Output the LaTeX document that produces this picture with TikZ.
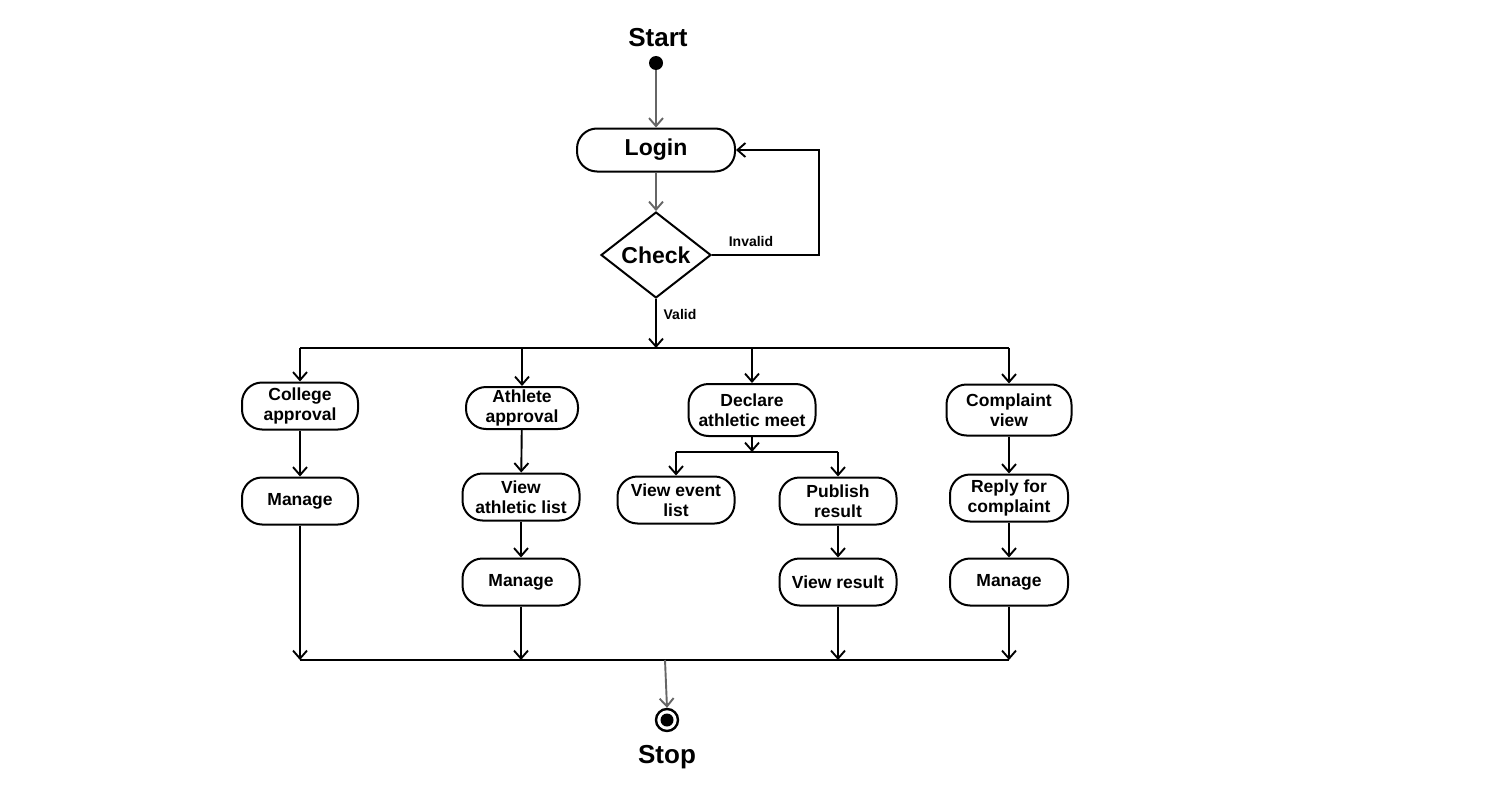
\documentclass[tikz,border=0pt]{standalone}
\usepackage{fontspec}
\setmainfont{Liberation Sans}
\usetikzlibrary{arrows.meta,shapes.geometric}
\definecolor{flowgray}{HTML}{666666}
\begin{document}
\begin{tikzpicture}[x=1pt,y=-1pt,
  act/.style={draw, line width=2pt, rounded corners=20pt, align=center, inner sep=0pt,
    minimum width=117pt, minimum height=47pt, font=\fontsize{17.5}{19.5}\selectfont\bfseries},
  tip/.style={-{Straight Barb[length=8pt,width=14pt]}},
  flow/.style={line width=1.9pt, tip},
  gflow/.style={line width=1.9pt, draw=flowgray, tip},
  bar/.style={line width=2.4pt},
  title/.style={font=\fontsize{26}{30}\selectfont\bfseries, inner sep=0pt},
  guard/.style={font=\fontsize{14}{16}\selectfont\bfseries, inner sep=0pt}
]
\fill[white] (0,0) rectangle (1500,800);
\useasboundingbox (0,0) rectangle (1500,800);

% start, login and check
\node[title] (startlbl) at (658,38) {Start};
\node[circle, fill=black, minimum size=14pt, inner sep=0pt] (start) at (656,63) {};
\node[act, minimum width=158pt, minimum height=43pt, font=\fontsize{23}{26}\selectfont\bfseries] (login) at (656,150) {Login};
\node[draw, diamond, line width=2pt, minimum width=110pt, minimum height=83pt, inner sep=0pt,
  font=\fontsize{23}{26}\selectfont\bfseries] (check) at (656,255) {Check};

\draw[gflow] (start) -- (login.north);
\draw[gflow] (login.south) -- (check.north);
\draw[flow] (check.east) -- (819,255) |- (login.east);
\node[guard] (invalid) at (751,241) {Invalid};

% fork bar
\coordinate (forkL) at (300,348);
\coordinate (forkR) at (1009,348);
\draw[bar] (forkL) -- (forkR);
\draw[flow] (check.south) -- (check.south |- forkL);
\node[guard] (valid) at (680,314) {Valid};

% activities
\node[act, minimum width=116pt] (ca) at (300,406) {College\\approval};
\node[act, minimum width=116pt] (m1) at (300,501) {Manage};
\node[act, minimum width=112pt, minimum height=42pt] (aa) at (522,408) {Athlete\\approval};
\node[act] (val) at (521,497) {View\\athletic list};
\node[act] (m2) at (521,582) {Manage};
\node[act, minimum width=127pt, minimum height=52pt] (dm) at (752,410) {Declare\\athletic meet};
\node[act] (ve) at (676,500) {View event\\list};
\node[act] (pr) at (838,501) {Publish\\result};
\node[act] (vr) at (838,582) {View result};
\node[act, minimum width=125pt, minimum height=51pt] (cv) at (1009,410) {Complaint\\view};
\node[act, minimum width=118pt] (rc) at (1009,498) {Reply for\\complaint};
\node[act, minimum width=118pt] (m3) at (1009,582) {Manage};

\draw[flow] (forkL) -- (ca.north);
\draw[flow] (aa.north |- forkL) -- (aa.north);
\draw[flow] (dm.north |- forkL) -- (dm.north);
\draw[flow] (forkR) -- (cv.north);

\draw[flow] (ca) -- (m1);
\draw[flow] (aa) -- (val);
\draw[flow] (val) -- (m2);
\draw[flow] (pr) -- (vr);
\draw[flow] (cv) -- (rc);
\draw[flow] (rc) -- (m3);

% declare meet split
\coordinate (dfork) at (752,452);
\draw[flow] (dm.south) -- (dfork);
\draw[line width=1.9pt] (ve.north |- dfork) -- (pr.north |- dfork);
\draw[flow] (ve.north |- dfork) -- (ve.north);
\draw[flow] (pr.north |- dfork) -- (pr.north);

% join bar
\coordinate (joinL) at (300,660);
\coordinate (joinR) at (1009,660);
\coordinate (joinMid) at (665,660);
\draw[bar] (joinL) -- (joinR);
\draw[flow] (m1.south) -- (joinL);
\draw[flow] (m2.south) -- (m2.south |- joinL);
\draw[flow] (vr.south) -- (vr.south |- joinL);
\draw[flow] (m3.south) -- (joinR);

% stop
\node[circle, draw=black, line width=2.4pt, minimum size=22pt, inner sep=0pt] (stop) at (667,720) {};
\fill[black] (stop.center) circle (6.5pt);
\draw[gflow] (joinMid) -- (stop.north);
\node[title] (stoplbl) at (667,757) {Stop};
\end{tikzpicture}
\end{document}
